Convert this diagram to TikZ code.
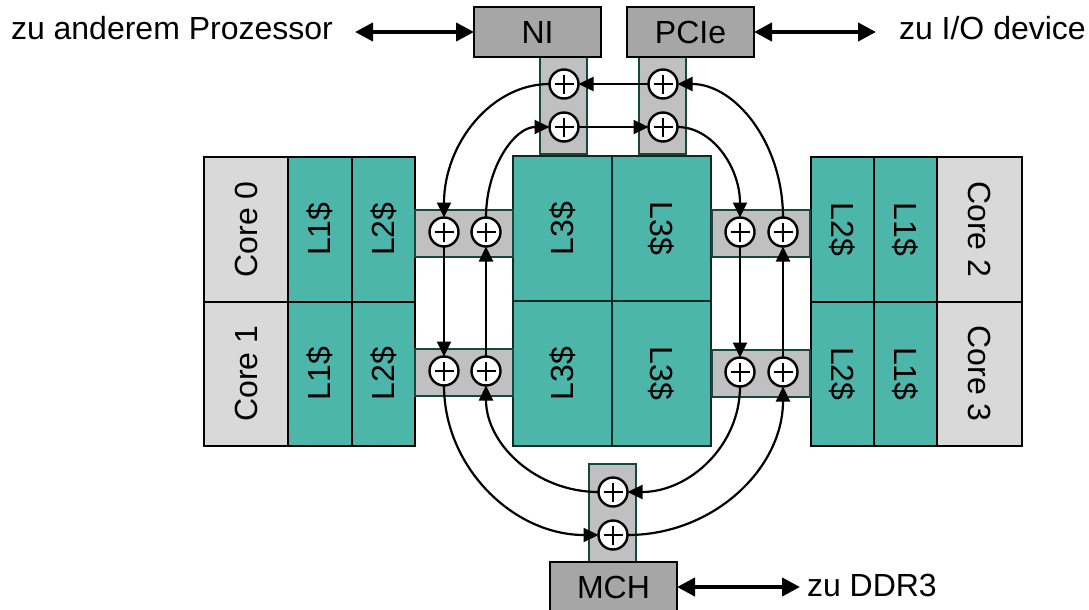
\documentclass[tikz,border=0pt]{standalone}
\usepackage{fontspec}
\setmainfont{Liberation Sans}
\usetikzlibrary{arrows.meta}
\definecolor{tealc}{RGB}{77,182,170}
\definecolor{coregray}{RGB}{217,217,217}
\definecolor{iogray}{RGB}{166,166,166}
\definecolor{hubgray}{RGB}{192,192,192}
\definecolor{hubline}{RGB}{22,72,62}
\definecolor{lthreeline}{RGB}{15,40,35}
\begin{document}
\begin{tikzpicture}[x=1pt,y=-1pt,
  every node/.style={font=\fontsize{32}{38}\selectfont, inner sep=0pt, outer sep=0pt},
  corebox/.style={draw=black, line width=2pt, fill=coregray, minimum width=84pt, minimum height=144.5pt},
  cachebox/.style={draw=black, line width=2pt, fill=tealc, minimum width=63pt, minimum height=144.5pt},
  lthreebox/.style={draw=lthreeline, line width=2pt, fill=tealc, minimum width=99pt, minimum height=145pt},
  iobox/.style={draw=black, line width=2pt, fill=iogray, minimum width=127pt, minimum height=50pt},
  hubbox/.style={draw=hubline, line width=1.8pt, fill=hubgray, minimum width=98pt, minimum height=47pt},
  stubbox/.style={draw=hubline, line width=1.8pt, fill=hubgray, minimum width=47pt, minimum height=97pt},
  adder/.style={circle, draw=black, fill=white, line width=2.4pt, minimum size=29pt,
    path picture={\draw[line width=2.6pt]
      ([xshift=-9.5pt]path picture bounding box.center) -- ([xshift=9.5pt]path picture bounding box.center)
      ([yshift=-9.5pt]path picture bounding box.center) -- ([yshift=9.5pt]path picture bounding box.center);}},
  ring/.style={line width=2.2pt, -{Triangle[length=15pt,width=14pt]}},
  ext/.style={line width=4pt, {Triangle[length=18pt,width=18pt]}-{Triangle[length=18pt,width=18pt]}},
  lbl/.style={font=\fontsize{32}{38}\selectfont}
]
\useasboundingbox (0,0) rectangle (1089,610);

% left cores
\node[corebox] (c0) at (246,229.25) {\rotatebox{90}{Core 0}};
\node[corebox] (c1) at (246,373.75) {\rotatebox{90}{Core 1}};
\node[cachebox, minimum width=64pt] (l1a) at (320,229.25) {\rotatebox{90}{L1\$}};
\node[cachebox, minimum width=64pt] (l1b) at (320,373.75) {\rotatebox{90}{L1\$}};
\node[cachebox] (l2a) at (383.5,229.25) {\rotatebox{90}{L2\$}};
\node[cachebox] (l2b) at (383.5,373.75) {\rotatebox{90}{L2\$}};

% right cores
\node[cachebox] (l2c) at (842.5,229.25) {\rotatebox{-90}{L2\$}};
\node[cachebox] (l2d) at (842.5,373.75) {\rotatebox{-90}{L2\$}};
\node[cachebox] (l1c) at (905.5,229.25) {\rotatebox{-90}{L1\$}};
\node[cachebox] (l1d) at (905.5,373.75) {\rotatebox{-90}{L1\$}};
\node[corebox, minimum width=85pt] (c2) at (979.5,229.25) {\rotatebox{-90}{Core 2}};
\node[corebox, minimum width=85pt] (c3) at (979.5,373.75) {\rotatebox{-90}{Core 3}};

% L3
\node[lthreebox] (l3a) at (562.5,228.5) {\rotatebox{90}{L3\$}};
\node[lthreebox] (l3b) at (661.5,228.5) {\rotatebox{-90}{L3\$}};
\node[lthreebox] (l3c) at (562.5,373.5) {\rotatebox{90}{L3\$}};
\node[lthreebox] (l3d) at (661.5,373.5) {\rotatebox{-90}{L3\$}};

% hubs
\node[hubbox] (hl1) at (464,233.5) {};
\node[hubbox] (hl2) at (464,372.5) {};
\node[hubbox] (hr1) at (761,233.5) {};
\node[hubbox] (hr2) at (761,373.5) {};
\node[stubbox] (sn) at (563.5,105.5) {};
\node[stubbox] (sp) at (662.5,105.5) {};
\node[stubbox, minimum height=98pt] (sm) at (612.5,513) {};

% IO boxes
\node[iobox] (ni) at (537.5,32) {NI};
\node[iobox] (pcie) at (690.5,32) {PCIe};
\node[iobox] (mch) at (613.5,587) {MCH};

% adders
\node[adder] (n1) at (564,84) {};
\node[adder] (n2) at (564,127) {};
\node[adder] (p1) at (663,84) {};
\node[adder] (p2) at (663,127) {};
\node[adder] (lh1) at (444,232) {};
\node[adder] (lh2) at (486,232) {};
\node[adder] (ll1) at (444,371) {};
\node[adder] (ll2) at (486,371) {};
\node[adder] (rh1) at (740,232) {};
\node[adder] (rh2) at (783,232) {};
\node[adder] (rl1) at (740,372) {};
\node[adder] (rl2) at (783,372) {};
\node[adder] (m1) at (613,492) {};
\node[adder] (m2) at (613,535) {};

% ring connectors
\draw[ring] (p1.west) -- (n1.east);
\draw[ring] (n2.east) -- (p2.west);
\draw[ring] (n1.west) .. controls +(-58,0) and +(0,-74) .. (lh1.north);
\draw[ring] (lh2.north) .. controls +(0,-50) and +(-35,0) .. (n2.west);
\draw[ring] (p2.east) .. controls +(35,0) and +(0,-50) .. (rh1.north);
\draw[ring] (rh2.north) .. controls +(0,-74) and +(58,0) .. (p1.east);
\draw[ring] (lh1.south) -- (ll1.north);
\draw[ring] (ll2.north) -- (lh2.south);
\draw[ring] (rh1.south) -- (rl1.north);
\draw[ring] (rl2.north) -- (rh2.south);
\draw[ring] (ll1.south) .. controls +(0,82) and +(-85,0) .. (m2.west);
\draw[ring] (m1.west) .. controls +(-62,0) and +(0,59) .. (ll2.south);
\draw[ring] (rl1.south) .. controls +(0,59) and +(62,0) .. (m1.east);
\draw[ring] (m2.east) .. controls +(86,0) and +(0,82) .. (rl2.south);

% external connectors
\coordinate (lt) at (355,32);
\coordinate (rt) at (876,32);
\coordinate (dd) at (800,587);
\draw[ext] (lt) -- (ni.west);
\draw[ext] (pcie.east) -- (rt);
\draw[ext] (mch.east) -- (dd);

\node[lbl, anchor=base west] (tl) at (11,40) {zu anderem Prozessor};
\node[lbl, anchor=base west] (tr) at (899,40) {zu I/O device};
\node[lbl, anchor=base west] (td) at (807,596) {zu DDR3};
\end{tikzpicture}
\end{document}
